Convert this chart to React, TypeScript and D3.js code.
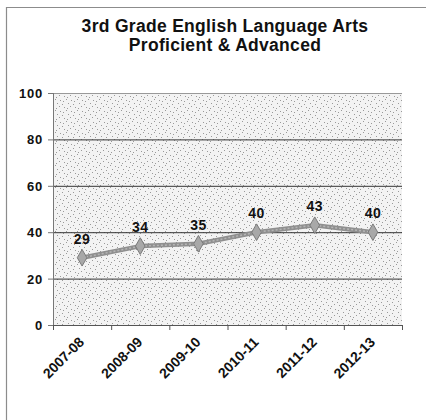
import * as d3 from 'd3';

const years = ['2007-08', '2008-09', '2009-10', '2010-11', '2011-12', '2012-13'];
const proficient = [29, 34, 35, 40, 43, 40];
const yTicks = [0, 20, 40, 60, 80, 100];
const titleLines = ['3rd Grade English Language Arts', 'Proficient & Advanced'];

const W = 426;
const H = 420;
const plot = { left: 53, right: 402, top: 93, bottom: 325 };

// stipple texture dots inside one pattern tile
const dots: Array<[number, number]> = [
  [0, 0], [5, 1], [2, 4], [7, 5], [4, 7], [9, 8], [1, 9], [8, 2],
];

export default function App() {
  const x = d3.scaleBand<string>().domain(years).range([plot.left, plot.right]);
  const y = d3.scaleLinear().domain([0, 100]).range([plot.bottom, plot.top]);

  const line = d3.line<number>()
    .x((_, i) => (x(years[i]) as number) + x.bandwidth() / 2)
    .y(d => y(d));

  const diamond = d3.symbol().type(d3.symbolDiamond).size(80)();
  const font = 'Arial, "Liberation Sans", Helvetica, sans-serif';

  const boundaries = years.map(yr => x(yr) as number).concat(plot.right);

  return (
    <svg width={W} height={H} style={{ position: 'absolute', left: 0, top: 0, background: '#fff' }}>
      <defs>
        <pattern id="stipple" width={11} height={11} patternUnits="userSpaceOnUse">
          <rect width={11} height={11} fill="#f3f3f3" />
          {dots.map(([dx, dy], i) => (
            <rect key={i} x={dx} y={dy} width={1} height={1} fill="#9a9a9a" />
          ))}
        </pattern>
      </defs>

      {/* outer frame */}
      <path d={`M6.5,${H} V7.5 H${W}`} fill="none" stroke="#8c8c8c" strokeWidth={1.2} />

      {titleLines.map((t, i) => (
        <text key={t} x={225} y={31.5 + i * 19} textAnchor="middle"
          fontFamily={font} fontWeight="bold" fontSize={17.5} letterSpacing={0.3} fill="#111">{t}</text>
      ))}

      <rect x={plot.left} y={plot.top} width={plot.right - plot.left} height={plot.bottom - plot.top}
        fill="url(#stipple)" />
      <line x1={plot.left} x2={plot.right} y1={plot.top + 0.5} y2={plot.top + 0.5} stroke="#999" />

      {yTicks.filter(v => v > 0 && v < 100).map(v => (
        <line key={v} x1={plot.left} x2={plot.right} y1={y(v) + 0.5} y2={y(v) + 0.5}
          stroke="#333" strokeWidth={1} />
      ))}

      {/* y axis */}
      <line x1={plot.left + 0.5} x2={plot.left + 0.5} y1={plot.top} y2={plot.bottom} stroke="#777" />
      {yTicks.map(v => (
        <g key={v}>
          <line x1={plot.left - 5} x2={plot.left} y1={y(v) + 0.5} y2={y(v) + 0.5} stroke="#777" />
          <text x={43} y={y(v) + 5} textAnchor="end" fontFamily={font} fontWeight="bold"
            fontSize={13} letterSpacing={0.8} fill="#111">{v}</text>
        </g>
      ))}

      {/* x axis */}
      <line x1={plot.left} x2={plot.right} y1={plot.bottom + 0.5} y2={plot.bottom + 0.5} stroke="#555" />
      {boundaries.map((bx, i) => (
        <line key={i} x1={bx + 0.5} x2={bx + 0.5} y1={plot.bottom} y2={plot.bottom + 5} stroke="#555" />
      ))}
      {years.map(yr => {
        const cx = (x(yr) as number) + x.bandwidth() / 2;
        return (
          <text key={yr} transform={`translate(${cx + 3},343) rotate(-45)`} textAnchor="end"
            fontFamily={font} fontWeight="bold" fontSize={14} fill="#111">{yr}</text>
        );
      })}

      {/* series */}
      <path d={line(proficient) ?? ''} fill="none" stroke="#8f8f8f" strokeWidth={4.5} strokeLinejoin="round" />
      <path d={line(proficient) ?? ''} fill="none" stroke="#b5b5b5" strokeWidth={1.5} strokeDasharray="2 2" />
      {proficient.map((v, i) => {
        const cx = (x(years[i]) as number) + x.bandwidth() / 2;
        return (
          <g key={years[i]}>
            <path d={diamond ?? ''} transform={`translate(${cx},${y(v)})`} fill="#a8a8a8" stroke="#7a7a7a" strokeWidth={1} />
            <text x={cx} y={y(v) - 14} textAnchor="middle" fontFamily={font} fontWeight="bold"
              fontSize={14} letterSpacing={0.5} fill="#111">{v}</text>
          </g>
        );
      })}
    </svg>
  );
}
